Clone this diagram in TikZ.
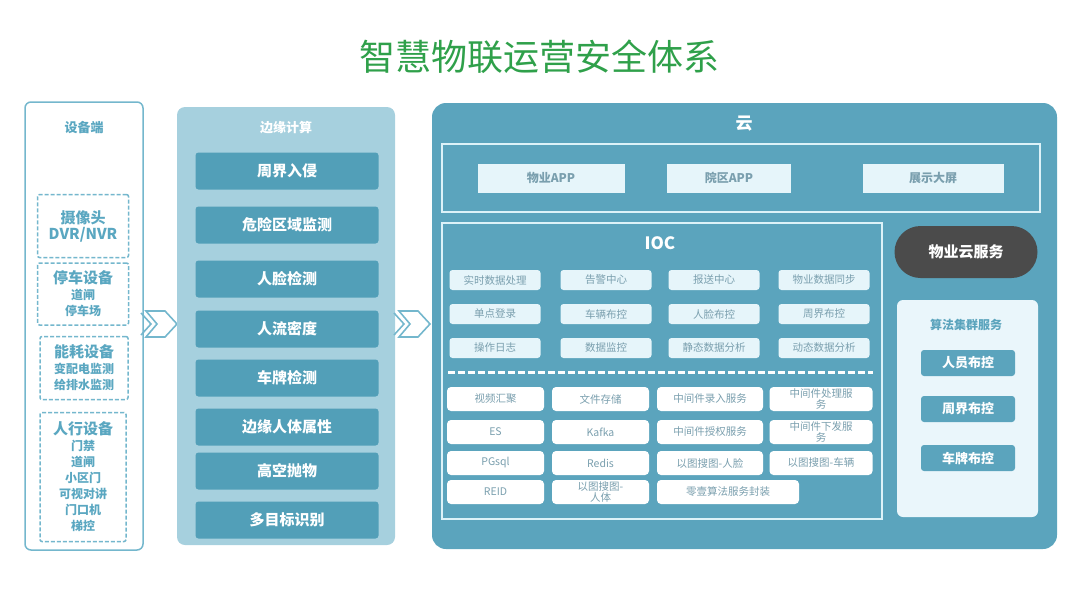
\documentclass[tikz,border=0pt]{standalone}
\usepackage{fontspec}
\setmainfont{Noto Sans CJK SC}
\usetikzlibrary{positioning}

\definecolor{titlegreen}{HTML}{2FA04A}
\definecolor{devline}{HTML}{74B7CD}
\definecolor{devtext}{HTML}{5AA7C1}
\definecolor{edgefill}{HTML}{A6D0DE}
\definecolor{edgedark}{HTML}{529FB8}
\definecolor{cloudfill}{HTML}{5BA4BD}
\definecolor{framecol}{HTML}{DDF2F8}
\definecolor{appfill}{HTML}{E6F5FA}
\definecolor{apptext}{HTML}{7A9FAE}
\definecolor{pillfill}{HTML}{4B4B4B}
\definecolor{algfill}{HTML}{EAF6FB}

\tikzset{
  box/.style={inner sep=0pt, align=center},
  devcol/.style={box, draw=devline, line width=1.5pt, fill=white, rounded corners=6pt},
  devgroup/.style={box, draw=devline, dash pattern=on 4pt off 2pt, line width=1.5pt, rounded corners=2pt,
    text=devtext, font=\fontsize{12}{16}\selectfont\bfseries},
  edgecol/.style={box, fill=edgefill, rounded corners=8pt},
  edgeitem/.style={box, fill=edgedark, rounded corners=3pt, text=white,
    minimum width=183pt, minimum height=37pt, font=\fontsize{15}{18}\selectfont\bfseries},
  cloudcol/.style={box, fill=cloudfill, rounded corners=14pt},
  frame/.style={box, draw=framecol, line width=1.5pt},
  app/.style={box, fill=appfill, text=apptext, minimum height=29pt,
    font=\fontsize{12}{14}\selectfont\bfseries},
  ioc/.style={box, fill=appfill, rounded corners=3pt, text=apptext,
    minimum width=91pt, minimum height=20pt, font=\fontsize{10.5}{11}\selectfont},
  mid/.style={box, fill=white, rounded corners=4pt, text=apptext,
    minimum height=24pt, font=\fontsize{10.5}{10.5}\selectfont},
  pill/.style={box, fill=pillfill, rounded corners=26pt, text=white,
    minimum width=143pt, minimum height=52pt, font=\fontsize{15}{18}\selectfont\bfseries},
  algcol/.style={box, fill=algfill, rounded corners=6pt},
  algitem/.style={box, fill=cloudfill, rounded corners=3pt, text=white,
    minimum width=94pt, minimum height=26pt, font=\fontsize{13}{15}\selectfont\bfseries},
  chev/.style={draw=devline, line width=1.6pt, line join=miter}
}

\begin{document}
\begin{tikzpicture}[x=1pt, y=-1pt]
  \path[use as bounding box] (0,0) rectangle (1080,608);

  % title
  \node[text=titlegreen, font=\fontsize{36}{40}\selectfont] (title) at (539,57) {智慧物联运营安全体系};

  % device column
  \node[devcol, minimum width=118pt, minimum height=448pt] (dev) at (84,326) {};
  \node[text=devtext, font=\fontsize{13}{15}\selectfont\bfseries] (devlabel) at (84,128) {设备端};
  \node[devgroup, minimum width=91pt, minimum height=63pt] (cam) at (83,226)
    {{\fontsize{15}{19}\selectfont 摄像头}\\{\fontsize{15}{19}\selectfont DVR/NVR}};
  \node[devgroup, minimum width=91pt, minimum height=62pt] (park) at (83,294)
    {{\fontsize{15}{19}\selectfont 停车设备}\\道闸\\停车场};
  \node[devgroup, minimum width=88pt, minimum height=63pt] (power) at (84,368)
    {{\fontsize{15}{19}\selectfont 能耗设备}\\变配电监测\\给排水监测};
  \node[devgroup, minimum width=86pt, minimum height=129pt] (walk) at (83,477)
    {{\fontsize{15}{19}\selectfont 人行设备}\\门禁\\道闸\\小区门\\可视对讲\\门口机\\梯控};

  % first chevron
  \draw[chev] (141,313) -- (151,324) -- (141,335);
  \draw[chev] (146,311) -- (165,311) -- (177,324) -- (165,337) -- (146,337) -- (157,324) -- cycle;

  % edge computing column
  \node[edgecol, minimum width=218pt, minimum height=438pt] (edge) at (286,326) {};
  \node[text=white, font=\fontsize{13}{15}\selectfont\bfseries] (edgelabel) at (286,128) {边缘计算};
  \foreach \name/\y/\txt in {e1/171/周界入侵, e2/225/危险区域监测, e3/279/人脸检测,
      e4/329/人流密度, e5/378/车牌检测, e6/427/边缘人体属性, e7/471/高空抛物, e8/520/多目标识别}
    \node[edgeitem] (\name) at (287,\y) {\txt};

  % second chevron
  \draw[chev] (394,313) -- (404,324) -- (394,335);
  \draw[chev] (399,311) -- (418,311) -- (430,324) -- (418,337) -- (399,337) -- (410,324) -- cycle;

  % cloud
  \node[cloudcol, minimum width=625pt, minimum height=446pt] (cloud) at (744.5,326) {};
  \node[text=white, font=\fontsize{17}{19}\selectfont\bfseries] (cloudlabel) at (744,124) {云};

  % apps
  \node[frame, minimum width=598pt, minimum height=68pt] (apps) at (741,178) {};
  \node[app, minimum width=147pt] (app1) at (551,178) {物业APP};
  \node[app, minimum width=124pt] (app2) at (729,178) {院区APP};
  \node[app, minimum width=141pt] (app3) at (933,178) {展示大屏};

  % IOC
  \node[frame, minimum width=440pt, minimum height=296pt] (iocframe) at (662,371) {};
  \node[text=white, font=\fontsize{17}{19}\selectfont\bfseries] (ioclabel) at (660,243) {IOC};
  \foreach \name/\x/\y/\txt in {i1/495/280/实时数据处理, i2/606/280/告警中心, i3/714/280/报送中心, i4/824/280/物业数据同步,
      i5/495/314/单点登录, i6/606/314/车辆布控, i7/714/314/人脸布控, i8/824/314/周界布控,
      i9/495/348/操作日志, i10/606/348/数据监控, i11/714/348/静态数据分析, i12/824/348/动态数据分析}
    \node[ioc] (\name) at (\x,\y) {\txt};
  \draw[white, line width=3pt, dash pattern=on 7pt off 3pt] (448,372) -- (873,372);

  % middleware
  \node[mid, minimum width=97pt] (m1) at (495.5,399) {视频汇聚};
  \node[mid, minimum width=97pt] (m2) at (600.5,399) {文件存储};
  \node[mid, minimum width=106pt] (m3) at (710,399) {中间件录入服务};
  \node[mid, minimum width=103pt] (m4) at (821,399) {中间件处理服\\务};
  \node[mid, minimum width=97pt] (m5) at (495.5,432) {ES};
  \node[mid, minimum width=97pt] (m6) at (600.5,432) {Kafka};
  \node[mid, minimum width=106pt] (m7) at (710,432) {中间件授权服务};
  \node[mid, minimum width=103pt] (m8) at (821,432) {中间件下发服\\务};
  \node[mid, minimum width=97pt] (m9) at (495.5,463) {PGsql};
  \node[mid, minimum width=97pt] (m10) at (600.5,463) {Redis};
  \node[mid, minimum width=106pt] (m11) at (710,463) {以图搜图-人脸};
  \node[mid, minimum width=103pt] (m12) at (821,463) {以图搜图-车辆};
  \node[mid, minimum width=97pt] (m13) at (495.5,492) {REID};
  \node[mid, minimum width=97pt] (m14) at (600.5,492) {以图搜图-\\人体};
  \node[mid, minimum width=142pt] (m15) at (728,492) {零壹算法服务封装};

  % property cloud service
  \node[pill] (pcs) at (966,252) {物业云服务};

  % algorithm cluster
  \node[algcol, minimum width=141pt, minimum height=217pt] (alg) at (967.5,408.5) {};
  \node[text=cloudfill, font=\fontsize{12}{14}\selectfont\bfseries] (alglabel) at (966,325) {算法集群服务};
  \node[algitem] (a1) at (968,363) {人员布控};
  \node[algitem] (a2) at (968,409) {周界布控};
  \node[algitem] (a3) at (968,458) {车牌布控};
\end{tikzpicture}
\end{document}
